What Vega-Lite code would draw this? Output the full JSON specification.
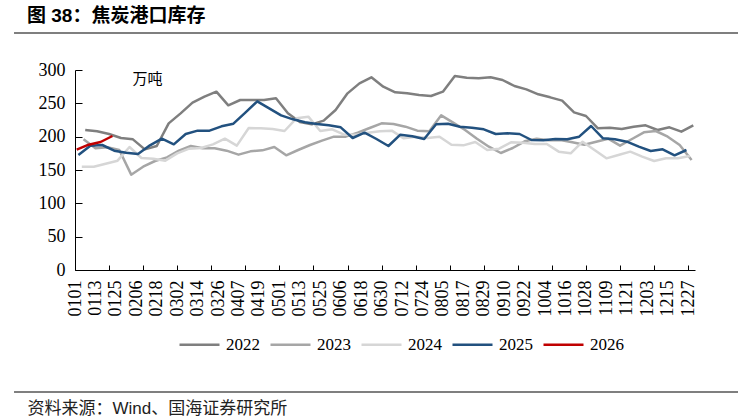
{
  "$schema": "https://vega.github.io/schema/vega-lite/v6.json",
  "width": 620,
  "height": 200,
  "autosize": {"type": "none"},
  "padding": {"left": 75, "top": 70, "right": 43, "bottom": 150},
  "background": "white",
  "config": {"view": {"stroke": null}, "font": "Liberation Serif"},
  "title": {
    "text": "图 38：焦炭港口库存",
    "anchor": "start",
    "frame": "group",
    "dx": -48,
    "offset": 6,
    "font": "'Liberation Sans', 'Noto Sans CJK SC'",
    "fontSize": 19,
    "fontWeight": "bold",
    "color": "#000000"
  },
  "datasets": {
    "series": [
      {"year": "2022", "day": 7, "value": 210}, {"year": "2022", "day": 14, "value": 208}, {"year": "2022", "day": 21, "value": 204}, {"year": "2022", "day": 28, "value": 198}, {"year": "2022", "day": 35, "value": 196}, {"year": "2022", "day": 42, "value": 181}, {"year": "2022", "day": 49, "value": 186}, {"year": "2022", "day": 56, "value": 220}, {"year": "2022", "day": 63, "value": 235}, {"year": "2022", "day": 70, "value": 251}, {"year": "2022", "day": 77, "value": 260}, {"year": "2022", "day": 84, "value": 267.5}, {"year": "2022", "day": 91, "value": 247}, {"year": "2022", "day": 98, "value": 255}, {"year": "2022", "day": 105, "value": 255}, {"year": "2022", "day": 112, "value": 255}, {"year": "2022", "day": 119, "value": 257.5}, {"year": "2022", "day": 126, "value": 235}, {"year": "2022", "day": 133, "value": 222}, {"year": "2022", "day": 140, "value": 218.5}, {"year": "2022", "day": 147, "value": 224}, {"year": "2022", "day": 154, "value": 240}, {"year": "2022", "day": 161, "value": 265}, {"year": "2022", "day": 168, "value": 280}, {"year": "2022", "day": 175, "value": 289}, {"year": "2022", "day": 182, "value": 275}, {"year": "2022", "day": 189, "value": 266.5}, {"year": "2022", "day": 196, "value": 265}, {"year": "2022", "day": 203, "value": 262.5}, {"year": "2022", "day": 210, "value": 261}, {"year": "2022", "day": 217, "value": 267.5}, {"year": "2022", "day": 224, "value": 291}, {"year": "2022", "day": 231, "value": 288.5}, {"year": "2022", "day": 238, "value": 287.5}, {"year": "2022", "day": 245, "value": 289}, {"year": "2022", "day": 252, "value": 285}, {"year": "2022", "day": 259, "value": 276}, {"year": "2022", "day": 266, "value": 271}, {"year": "2022", "day": 273, "value": 263.5}, {"year": "2022", "day": 280, "value": 259}, {"year": "2022", "day": 287, "value": 254}, {"year": "2022", "day": 294, "value": 236.5}, {"year": "2022", "day": 301, "value": 231}, {"year": "2022", "day": 308, "value": 212.5}, {"year": "2022", "day": 315, "value": 213.5}, {"year": "2022", "day": 322, "value": 211.5}, {"year": "2022", "day": 329, "value": 215}, {"year": "2022", "day": 336, "value": 217}, {"year": "2022", "day": 343, "value": 210}, {"year": "2022", "day": 350, "value": 214}, {"year": "2022", "day": 357, "value": 207.5}, {"year": "2022", "day": 364, "value": 217},
      {"year": "2023", "day": 6, "value": 196}, {"year": "2023", "day": 13, "value": 182.5}, {"year": "2023", "day": 20, "value": 184}, {"year": "2023", "day": 27, "value": 180}, {"year": "2023", "day": 34, "value": 143}, {"year": "2023", "day": 41, "value": 155}, {"year": "2023", "day": 48, "value": 163.5}, {"year": "2023", "day": 55, "value": 169}, {"year": "2023", "day": 62, "value": 179}, {"year": "2023", "day": 69, "value": 186}, {"year": "2023", "day": 76, "value": 182.5}, {"year": "2023", "day": 83, "value": 182.5}, {"year": "2023", "day": 90, "value": 179}, {"year": "2023", "day": 97, "value": 173}, {"year": "2023", "day": 104, "value": 178}, {"year": "2023", "day": 111, "value": 179.5}, {"year": "2023", "day": 118, "value": 184.5}, {"year": "2023", "day": 125, "value": 172}, {"year": "2023", "day": 132, "value": 180}, {"year": "2023", "day": 139, "value": 187.5}, {"year": "2023", "day": 146, "value": 194}, {"year": "2023", "day": 153, "value": 200}, {"year": "2023", "day": 160, "value": 200}, {"year": "2023", "day": 167, "value": 206}, {"year": "2023", "day": 174, "value": 213}, {"year": "2023", "day": 181, "value": 220}, {"year": "2023", "day": 188, "value": 219}, {"year": "2023", "day": 195, "value": 215}, {"year": "2023", "day": 202, "value": 209}, {"year": "2023", "day": 209, "value": 208}, {"year": "2023", "day": 216, "value": 232}, {"year": "2023", "day": 223, "value": 221}, {"year": "2023", "day": 230, "value": 210}, {"year": "2023", "day": 237, "value": 197}, {"year": "2023", "day": 244, "value": 185}, {"year": "2023", "day": 251, "value": 175.5}, {"year": "2023", "day": 258, "value": 183}, {"year": "2023", "day": 265, "value": 193}, {"year": "2023", "day": 272, "value": 197}, {"year": "2023", "day": 279, "value": 194.5}, {"year": "2023", "day": 286, "value": 195}, {"year": "2023", "day": 293, "value": 191.5}, {"year": "2023", "day": 300, "value": 188}, {"year": "2023", "day": 307, "value": 192.5}, {"year": "2023", "day": 314, "value": 197}, {"year": "2023", "day": 321, "value": 186.5}, {"year": "2023", "day": 328, "value": 196.5}, {"year": "2023", "day": 335, "value": 206.5}, {"year": "2023", "day": 342, "value": 208.5}, {"year": "2023", "day": 349, "value": 200}, {"year": "2023", "day": 356, "value": 187.5}, {"year": "2023", "day": 363, "value": 165},
      {"year": "2024", "day": 5, "value": 155}, {"year": "2024", "day": 12, "value": 155}, {"year": "2024", "day": 19, "value": 159.5}, {"year": "2024", "day": 26, "value": 164}, {"year": "2024", "day": 33, "value": 184.5}, {"year": "2024", "day": 40, "value": 168}, {"year": "2024", "day": 47, "value": 167}, {"year": "2024", "day": 54, "value": 164}, {"year": "2024", "day": 61, "value": 175}, {"year": "2024", "day": 68, "value": 182}, {"year": "2024", "day": 75, "value": 183}, {"year": "2024", "day": 82, "value": 188.5}, {"year": "2024", "day": 89, "value": 197}, {"year": "2024", "day": 96, "value": 186.5}, {"year": "2024", "day": 103, "value": 213}, {"year": "2024", "day": 110, "value": 212.5}, {"year": "2024", "day": 117, "value": 211.5}, {"year": "2024", "day": 124, "value": 208.5}, {"year": "2024", "day": 131, "value": 227.5}, {"year": "2024", "day": 138, "value": 230}, {"year": "2024", "day": 145, "value": 208.5}, {"year": "2024", "day": 152, "value": 211}, {"year": "2024", "day": 159, "value": 203}, {"year": "2024", "day": 166, "value": 203}, {"year": "2024", "day": 173, "value": 206}, {"year": "2024", "day": 180, "value": 208}, {"year": "2024", "day": 187, "value": 209}, {"year": "2024", "day": 194, "value": 197.5}, {"year": "2024", "day": 201, "value": 200}, {"year": "2024", "day": 208, "value": 198}, {"year": "2024", "day": 215, "value": 200}, {"year": "2024", "day": 222, "value": 188}, {"year": "2024", "day": 229, "value": 187}, {"year": "2024", "day": 236, "value": 192}, {"year": "2024", "day": 243, "value": 180}, {"year": "2024", "day": 250, "value": 182}, {"year": "2024", "day": 257, "value": 191.5}, {"year": "2024", "day": 264, "value": 191}, {"year": "2024", "day": 271, "value": 189}, {"year": "2024", "day": 278, "value": 189}, {"year": "2024", "day": 285, "value": 177.5}, {"year": "2024", "day": 292, "value": 175}, {"year": "2024", "day": 299, "value": 192.5}, {"year": "2024", "day": 306, "value": 180}, {"year": "2024", "day": 313, "value": 167.5}, {"year": "2024", "day": 320, "value": 172.5}, {"year": "2024", "day": 327, "value": 177.5}, {"year": "2024", "day": 334, "value": 170}, {"year": "2024", "day": 341, "value": 163.5}, {"year": "2024", "day": 348, "value": 167.5}, {"year": "2024", "day": 355, "value": 167.5}, {"year": "2024", "day": 362, "value": 171},
      {"year": "2025", "day": 3, "value": 172.5}, {"year": "2025", "day": 10, "value": 186.5}, {"year": "2025", "day": 17, "value": 187.5}, {"year": "2025", "day": 24, "value": 179}, {"year": "2025", "day": 31, "value": 176}, {"year": "2025", "day": 38, "value": 174}, {"year": "2025", "day": 45, "value": 187}, {"year": "2025", "day": 52, "value": 197}, {"year": "2025", "day": 59, "value": 188.5}, {"year": "2025", "day": 66, "value": 204}, {"year": "2025", "day": 73, "value": 209}, {"year": "2025", "day": 80, "value": 209}, {"year": "2025", "day": 87, "value": 215.5}, {"year": "2025", "day": 94, "value": 219.5}, {"year": "2025", "day": 101, "value": 236}, {"year": "2025", "day": 108, "value": 253}, {"year": "2025", "day": 115, "value": 242.5}, {"year": "2025", "day": 122, "value": 232}, {"year": "2025", "day": 129, "value": 226}, {"year": "2025", "day": 136, "value": 221.5}, {"year": "2025", "day": 143, "value": 219}, {"year": "2025", "day": 150, "value": 217}, {"year": "2025", "day": 157, "value": 214}, {"year": "2025", "day": 164, "value": 198}, {"year": "2025", "day": 171, "value": 206}, {"year": "2025", "day": 178, "value": 196.5}, {"year": "2025", "day": 185, "value": 186}, {"year": "2025", "day": 192, "value": 203}, {"year": "2025", "day": 199, "value": 200.5}, {"year": "2025", "day": 206, "value": 196.5}, {"year": "2025", "day": 213, "value": 218.5}, {"year": "2025", "day": 220, "value": 219.5}, {"year": "2025", "day": 227, "value": 215}, {"year": "2025", "day": 234, "value": 213.5}, {"year": "2025", "day": 241, "value": 211}, {"year": "2025", "day": 248, "value": 204}, {"year": "2025", "day": 255, "value": 205}, {"year": "2025", "day": 262, "value": 204}, {"year": "2025", "day": 269, "value": 195}, {"year": "2025", "day": 276, "value": 194.5}, {"year": "2025", "day": 283, "value": 196.5}, {"year": "2025", "day": 290, "value": 196}, {"year": "2025", "day": 297, "value": 200}, {"year": "2025", "day": 304, "value": 216}, {"year": "2025", "day": 311, "value": 197.5}, {"year": "2025", "day": 318, "value": 196}, {"year": "2025", "day": 325, "value": 192.5}, {"year": "2025", "day": 332, "value": 185}, {"year": "2025", "day": 339, "value": 178.5}, {"year": "2025", "day": 346, "value": 181}, {"year": "2025", "day": 353, "value": 172}, {"year": "2025", "day": 360, "value": 180},
      {"year": "2026", "day": 2, "value": 180.5}, {"year": "2026", "day": 9, "value": 188}, {"year": "2026", "day": 16, "value": 192}, {"year": "2026", "day": 23, "value": 201}
    ],
    "frame": [{"part": "frame"}]
  },
  "layer": [
    {
      "data": {"name": "series"},
      "mark": {"type": "line", "strokeWidth": 2.5, "strokeJoin": "round"},
      "encoding": {
        "x": {
          "field": "day",
          "type": "quantitative",
          "scale": {"domain": [1, 365], "nice": false, "zero": false},
          "axis": {
            "values": [1, 13, 25, 37, 49, 61, 73, 85, 97, 109, 121, 133, 145, 157, 169, 181, 193, 205, 217, 229, 241, 253, 265, 277, 289, 301, 313, 325, 337, 349, 361],
            "labelExpr": "timeFormat(datetime(2023, 0, datum.value), '%m%d')",
            "labelAngle": -90,
            "labelAlign": "right",
            "labelBaseline": "middle",
            "labelFont": "Liberation Serif",
            "labelFontSize": 18,
            "labelColor": "#000000",
            "labelPadding": 10,
            "labelFlush": false,
            "labelOverlap": false,
            "labelBound": false,
            "ticks": false,
            "grid": false,
            "domain": true,
            "domainColor": "#000000",
            "domainWidth": 1,
            "title": "资料来源：Wind、国海证券研究所",
            "titleFont": "'Liberation Sans', 'Noto Sans CJK SC'",
            "titleFontSize": 17,
            "titleFontWeight": "normal",
            "titleColor": "#222222",
            "titleX": -48,
            "titleY": 138,
            "titleAlign": "left",
            "titleBaseline": "middle",
            "titleAngle": 0
          }
        },
        "y": {
          "field": "value",
          "type": "quantitative",
          "scale": {"domain": [0, 300], "nice": false, "zero": true},
          "axis": {
            "values": [0, 50, 100, 150, 200, 250, 300],
            "labelFont": "Liberation Serif",
            "labelFontSize": 18,
            "labelColor": "#000000",
            "labelPadding": 17,
            "ticks": true,
            "tickSize": -7,
            "tickColor": "#000000",
            "grid": false,
            "domain": true,
            "domainColor": "#000000",
            "title": "万吨",
            "titleFont": "'Noto Sans CJK SC'",
            "titleFontSize": 15,
            "titleFontWeight": "normal",
            "titleColor": "#000000",
            "titleAngle": 0,
            "titleX": 57,
            "titleY": 8,
            "titleAlign": "left",
            "titleBaseline": "middle"
          }
        },
        "color": {
          "field": "year",
          "type": "nominal",
          "scale": {"domain": ["2022", "2023", "2024", "2025", "2026"], "range": ["#7f7f7f", "#a6a6a6", "#d6d6d6", "#22517f", "#c00000"]},
          "legend": {
            "orient": "none",
            "legendX": 103,
            "legendY": 253,
            "direction": "horizontal",
            "title": null,
            "symbolType": "stroke",
            "symbolSize": 1600,
            "symbolStrokeWidth": 2.5,
            "labelFont": "Liberation Serif",
            "labelFontSize": 17,
            "labelColor": "#000000",
            "labelOffset": 5,
            "columnPadding": 5
          }
        }
      }
    },
    {
      "data": {"name": "frame"},
      "mark": {"type": "rule", "color": "#7f7f7f", "strokeWidth": 2},
      "encoding": {
        "x": {
          "datum": -34.8,
          "type": "quantitative",
          "scale": {"domain": [1, 365], "nice": false, "zero": false},
          "axis": {
            "orient": "bottom",
            "values": [1, 21, 41, 61, 81, 101, 121, 141, 161, 181, 201, 221, 241, 261, 281, 301, 321, 341, 361],
            "labels": false,
            "domain": false,
            "grid": false,
            "ticks": true,
            "tickSize": -5,
            "tickColor": "#000000",
            "title": null
          }
        },
        "x2": {"datum": 390.3},
        "y": {"datum": 355.5, "type": "quantitative", "scale": {"domain": [0, 300], "nice": false, "zero": true}, "axis": null}
      }
    },
    {
      "data": {"name": "frame"},
      "mark": {"type": "rule", "color": "#000000", "strokeWidth": 1.2},
      "encoding": {
        "x": {"datum": -34.8, "type": "quantitative", "scale": {"domain": [1, 365], "nice": false, "zero": false}, "axis": null},
        "x2": {"datum": 390.3},
        "y": {"datum": -183, "type": "quantitative", "scale": {"domain": [0, 300], "nice": false, "zero": true}, "axis": null}
      }
    }
  ],
  "resolve": {"axis": {"x": "independent", "y": "independent"}}
}
